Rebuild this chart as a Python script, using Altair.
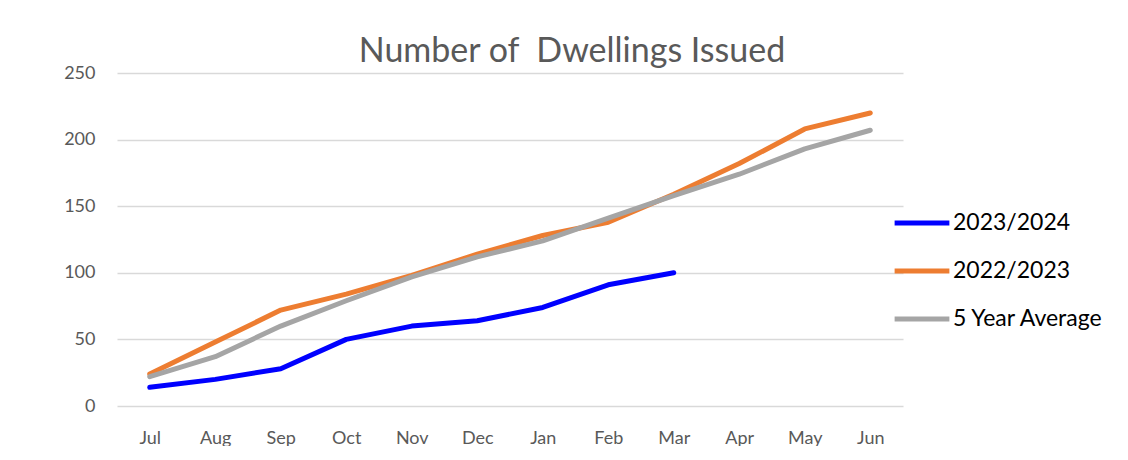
import altair as alt
import pandas as pd

months = ["Jul", "Aug", "Sep", "Oct", "Nov", "Dec", "Jan", "Feb", "Mar", "Apr", "May", "Jun"]
series_names = ["2023/2024", "2022/2023", "5 Year Average"]
s_2023_2024 = [14, 20, 28, 50, 60, 64, 74, 91, 100]
s_2022_2023 = [24, 48, 72, 84, 98, 114, 128, 138, 159, 182, 208, 220]
s_5yr_avg = [22, 37, 60, 79, 97, 112, 124, 141, 158, 174, 193, 207]
colors = ["#0000FF", "#ED7D31", "#A5A5A5"]

rows = []
for name, vals in zip(series_names, [s_2023_2024, s_2022_2023, s_5yr_avg]):
    for m, v in zip(months, vals):
        rows.append({"Month": m, "Value": v, "Series": name})
df = pd.DataFrame(rows)

FONT = "Lato"

chart = alt.Chart(df).mark_line(strokeWidth=5, strokeCap="round", strokeJoin="round").encode(
    x=alt.X("Month:N", sort=months, scale=alt.Scale(domain=months, type="point", padding=0.5),
            axis=alt.Axis(title=None, labelAngle=0, ticks=False, domain=False, grid=False,
                          labelPadding=23, labelFontSize=18, labelColor="#595959", labelFont=FONT)),
    y=alt.Y("Value:Q", scale=alt.Scale(domain=[0, 250]),
            axis=alt.Axis(title=None, values=[0, 50, 100, 150, 200, 250], ticks=False, domain=False,
                          gridColor="#D9D9D9", gridWidth=1.5, labelPadding=22,
                          labelFontSize=18, labelColor="#595959", labelFont=FONT)),
    color=alt.Color("Series:N", sort=series_names,
                    scale=alt.Scale(domain=series_names, range=colors),
                    legend=alt.Legend(title=None, orient="none", legendX=775, legendY=120,
                                      symbolType="stroke", symbolSize=3000, symbolStrokeWidth=5,
                                      labelFontSize=23, labelColor="#000000", labelFont=FONT,
                                      rowPadding=6, labelOffset=1)),
    order=alt.Order("Series:N"),
).properties(
    width=786,
    height=333,
    title=alt.TitleParams("Number of\u00a0 Dwellings Issued", fontSize=34, font=FONT, fontWeight="normal",
                          color="#595959", anchor="middle", dx=62, offset=-5),
    autosize=alt.AutoSizeParams(type="none"),
    padding={"left": 109, "top": 65, "right": 210, "bottom": 40},
).configure(background="white").configure_view(strokeWidth=0)

chart.save("out.html", embed_options={"renderer": "svg", "actions": False})
